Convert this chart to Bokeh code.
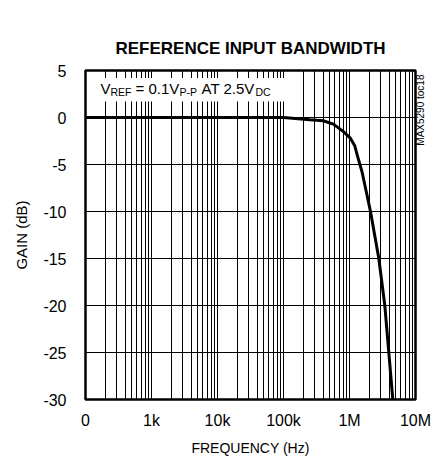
from bokeh.plotting import figure
from bokeh.models import FixedTicker, Label, BoxAnnotation, LinearAxis
from bokeh.embed import file_html
from bokeh.resources import INLINE
import math

# ---- data ----
freq_hz = [100, 1e3, 1e4, 1e5, 1.5e5, 2.5e5, 4e5, 5.7e5, 8.1e5, 1.03e6, 1.2e6,
           1.31e6, 1.55e6, 2.08e6, 2.78e6, 3.43e6, 3.94e6, 4.53e6]
gain_db = [0, 0, 0, 0, -0.1, -0.25, -0.35, -0.7, -1.5, -2.2, -3.0,
           -4.0, -5.8, -10, -15, -20, -25, -30]

x_ticks = [100, 1e3, 1e4, 1e5, 1e6, 1e7]
x_tick_labels = ["0", "1k", "10k", "100k", "1M", "10M"]
y_ticks = [5, 0, -5, -10, -15, -20, -25, -30]
y_tick_labels = ["5", "0", "-5", "-10", "-15", "-20", "-25", "-30"]

FONT = "Liberation Sans Narrow, Liberation Sans, sans-serif"

# minor decade ticks 2..9 for the log grid
x_minor = [m * d for d in x_ticks[:-1] for m in range(2, 10)]

p = figure(width=435, height=458, x_axis_type="log",
           x_range=(100, 1e7), y_range=(-30, 5),
           output_backend="svg", toolbar_location=None,
           min_border_left=85, min_border_right=20,
           min_border_top=70, min_border_bottom=59,
           title="REFERENCE INPUT BANDWIDTH")

p.title.align = "center"
p.title.text_font = FONT
p.title.text_font_size = "17px"
p.title.text_font_style = "bold"
p.title.text_color = "black"
p.title.standoff = 25

p.outline_line_color = "black"
p.outline_line_width = 2.5

p.xaxis.ticker = FixedTicker(ticks=x_ticks, minor_ticks=x_minor)
p.xaxis.major_label_overrides = {t: l for t, l in zip(x_ticks, x_tick_labels)}
p.yaxis.ticker = FixedTicker(ticks=y_ticks)
p.yaxis.major_label_overrides = {t: l for t, l in zip(y_ticks, y_tick_labels)}

# part-number tag on the right, reading bottom to top
tag_axis = LinearAxis(ticker=FixedTicker(ticks=[-3.0]),
                      major_label_overrides={-3.0: "MAX5290 toc18"},
                      major_label_orientation=math.pi / 2,
                      major_label_standoff=5,
                      major_label_text_font=FONT,
                      major_label_text_font_size="10px",
                      major_label_text_color="black",
                      axis_line_color=None, major_tick_line_color=None,
                      minor_tick_line_color=None, major_tick_out=0,
                      minor_tick_out=0)
p.add_layout(tag_axis, "right")

for ax in (p.xaxis[0], p.yaxis[0]):
    ax.axis_line_color = None
    ax.major_tick_line_color = None
    ax.minor_tick_line_color = None
    ax.major_tick_out = 0
    ax.minor_tick_out = 0
    ax.major_label_text_font = FONT
    ax.major_label_text_font_size = "16px"
    ax.major_label_text_color = "black"
    ax.axis_label_text_font = FONT
    ax.axis_label_text_font_style = "normal"
    ax.axis_label_text_color = "black"

p.xaxis[0].axis_label = "FREQUENCY (Hz)"
p.yaxis[0].axis_label = "GAIN (dB)"
p.xaxis[0].axis_label_text_font_size = "14px"
p.yaxis[0].axis_label_text_font_size = "15px"
p.xaxis[0].major_label_standoff = 12
p.xaxis[0].axis_label_standoff = 8
p.yaxis[0].major_label_standoff = 19
p.yaxis[0].axis_label_standoff = 10

p.xgrid.grid_line_color = "black"
p.xgrid.grid_line_width = 1
p.xgrid.grid_line_alpha = 1
p.xgrid.minor_grid_line_color = "black"
p.xgrid.minor_grid_line_width = 1
p.ygrid.grid_line_color = "black"
p.ygrid.grid_line_width = 1
p.ygrid.grid_line_alpha = 1

# white box behind the condition text
p.add_layout(BoxAnnotation(left=142, right=1.28e5, top=4.2, bottom=1.7,
                           fill_color="white", fill_alpha=1,
                           line_color=None, level="overlay"))

p.line(freq_hz, gain_db, line_color="black", line_width=3, line_join="round")

# condition text with subscripts (pieces anchored at the left frame edge)
pieces = [("V", 15, False), ("REF", 25, True), ("= 0.1V", 50, False),
          ("P-P", 94, True), ("AT 2.5V", 116, False), ("DC", 170, True)]
for txt, dx, sub in pieces:
    p.add_layout(Label(x=100, y=2.7 if sub else 3.1, x_offset=dx, text=txt,
                       text_font=FONT,
                       text_font_size="10.5px" if sub else "15px",
                       text_color="black", text_baseline="alphabetic",
                       text_align="left", level="overlay"))

open("out.html", "w").write(file_html(p, INLINE))
